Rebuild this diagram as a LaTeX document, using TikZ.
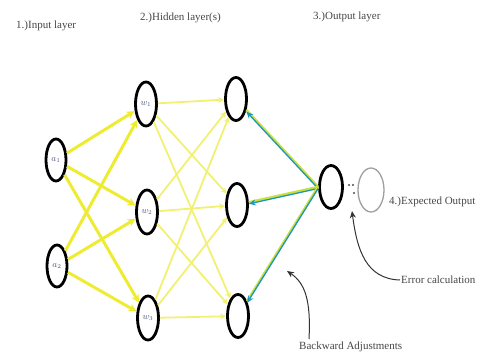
\documentclass[tikz,border=0pt]{standalone}
\usepackage{fontspec}
\setmainfont{Liberation Serif}
\usetikzlibrary{shapes.geometric,arrows.meta}
\definecolor{ylw}{RGB}{238,236,50}
\definecolor{ylwlight}{RGB}{242,240,115}
\definecolor{ylwgreen}{RGB}{200,225,60}
\definecolor{backblue}{RGB}{30,150,190}
\definecolor{lbl}{RGB}{70,70,70}
\definecolor{nodelbl}{RGB}{80,85,125}
\tikzset{
  neuron/.style={ellipse, draw=black, line width=2.8pt, minimum width=20pt, minimum height=42pt, inner sep=0pt, font=\small, text=nodelbl},
  target/.style={ellipse, draw=gray!75, line width=1.3pt, minimum width=26pt, minimum height=44pt, inner sep=0pt},
  title/.style={font=\fontsize{11}{13}\selectfont, text=lbl, inner sep=1pt},
  note/.style={font=\fontsize{11}{13}\selectfont, text=lbl, inner sep=1pt},
  inlink/.style={draw=ylw, line width=3pt, -{Stealth[length=8pt,width=8pt]}},
  midlink/.style={draw=ylwlight, line width=1.8pt, -{Stealth[length=6pt,width=6pt]}},
  backline/.style={draw=ylwgreen, line width=2.6pt},
  backarrow/.style={draw=backblue, line width=1.3pt, -{Stealth[length=7pt,width=6pt]}},
  pointer/.style={draw=black!80, line width=1pt, -{Stealth[length=7pt,width=6pt]}},
  dot/.style={fill=black!70, draw=none}
}
\begin{document}
\begin{tikzpicture}[x=1pt,y=-1pt]
\useasboundingbox (0,0) rectangle (481,358);

% layer titles
\node[title, anchor=west] (t1) at (15,26) {1.)Input layer};
\node[title, anchor=west] (t2) at (139,18) {2.)Hidden layer(s)};
\node[title, anchor=west] (t3) at (312,17) {3.)Output layer};

% input layer
\node[neuron] (a1) at (56,160) {$a_1$};
\node[neuron] (a2) at (57,266) {$a_2$};

% first hidden layer
\node[neuron, minimum width=21pt, minimum height=44pt] (w1) at (146,104) {$w_1$};
\node[neuron, minimum width=21pt, minimum height=44pt] (w2) at (147,212) {$w_2$};
\node[neuron, minimum width=21pt, minimum height=44pt] (w3) at (148,318) {$w_3$};

% second hidden layer
\node[neuron, minimum width=21pt, minimum height=43pt] (h1) at (236,99) {};
\node[neuron, minimum width=21pt, minimum height=43pt] (h2) at (237,205) {};
\node[neuron, minimum width=21pt, minimum height=43pt] (h3) at (238,316) {};

% output and expected output
\node[neuron, minimum width=23pt, minimum height=43pt] (out) at (331,187) {};
\node[target] (exp) at (371,190) {};
\node[note, anchor=west] (expl) at (388,202) {4.)Expected Output};

% comparison mark between output and expected output
\fill[dot] (349,185) circle (1.1pt);
\fill[dot] (353,185) circle (1.1pt);
\fill[dot] (354,193) circle (1.1pt);

% input -> first hidden
\foreach \s in {a1,a2}
  \foreach \t in {w1,w2,w3}
    \draw[inlink] (\s) -- (\t);

% first hidden -> second hidden
\foreach \s in {w1,w2,w3}
  \foreach \t in {h1,h2,h3}
    \draw[midlink] (\s) -- (\t);

% output -> second hidden, with backward adjustments
\foreach \t in {h1,h2,h3} {
  \draw[backline] (out.west) -- (\t);
  \draw[backarrow, transform canvas={yshift=-1.5pt}] (out.west) -- (\t);
}

% annotations
\node[note, anchor=west] (err) at (400,280) {Error calculation};
\coordinate (errtip) at (352,211);
\draw[pointer] (err.west) .. controls (366,279) and (357,250) .. (errtip);

\node[note, anchor=west] (bwd) at (298,347) {Backward Adjustments};
\coordinate (bwdstart) at (309,339);
\coordinate (bwdtip) at (287,271);
\draw[pointer] (bwdstart) .. controls (311,300) and (305,283) .. (bwdtip);
\end{tikzpicture}
\end{document}
